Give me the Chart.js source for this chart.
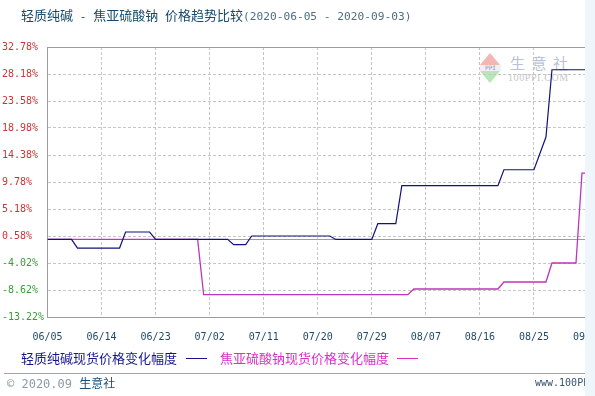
<!DOCTYPE html>
<html>
<head>
<meta charset="utf-8">
<script src="https://cdn.jsdelivr.net/npm/chart.js@4.4.0/dist/chart.umd.min.js"></script>
<style>
  html, body { margin: 0; padding: 0; background: #fff; }
  #wrap { position: relative; width: 595px; height: 396px; overflow: hidden; background: #fff; }
  #chart { position: absolute; left: 0; top: 0; }
  .abs { position: absolute; white-space: nowrap; }
  .cjk { font-family: "Noto Sans CJK SC", sans-serif; }
  .mono { font-family: "DejaVu Sans Mono", monospace; }
  #title { left: 21px; top: 7px; line-height: 16px; color: #16496b; }
  #title .cjk { font-size: 13px; }
  #title .mono { font-size: 11.2px; }
  #title .date { color: #4f6e86; }
  .legtxt { top: 350px; font-size: 13px; line-height: 16px; }
  .legline { top: 358px; width: 21px; height: 0; border-top: 1.5px solid; }
  #sep { left: 4px; top: 373px; width: 585px; height: 1px; background: #a4a4a4; }
  #footer { left: 7px; top: 375px; line-height: 16px; }
  #site { left: 535px; top: 376px; font-size: 10px; line-height: 14px; color: #34536f; }
  #strip { left: 585px; top: 0; width: 10px; height: 396px; background: #eef5fb; }
  #mark { left: 480px; top: 53px; }
</style>
</head>
<body>
<div id="wrap">
  <div id="mark" class="abs">
    <div class="abs" style="left:0;top:0;width:0;height:0;border-left:10.5px solid transparent;border-right:10.5px solid transparent;border-bottom:12px solid #f3b6b3;"></div>
    <div class="abs mono" style="left:0;top:12px;width:21px;height:6px;font-size:6px;line-height:6px;color:#8a94b8;text-align:center;background:#eef0f6;">PPI</div>
    <div class="abs" style="left:0;top:18px;width:0;height:0;border-left:10.5px solid transparent;border-right:10.5px solid transparent;border-top:12px solid #b8e6b6;"></div>
    <div class="abs cjk" style="left:30px;top:2px;font-size:15px;line-height:16px;letter-spacing:6.5px;color:#b9c2d6;">生意社</div>
    <div class="abs" style="left:28px;top:20px;font-family:'Liberation Serif',serif;font-size:10px;line-height:10px;letter-spacing:0.6px;color:#c6c6c6;">100PPI.COM</div>
  </div>
  <canvas id="chart" width="595" height="396"></canvas>
  <div id="title" class="abs"><span class="cjk">轻质纯碱</span><span class="mono"> - </span><span class="cjk">焦亚硫酸钠</span><span class="mono"> </span><span class="cjk">价格趋势比较</span><span class="mono date">(2020-06-05 - 2020-09-03)</span></div>
  <div class="abs cjk legtxt" style="left:21px;color:#16168c;">轻质纯碱现货价格变化幅度</div>
  <div class="abs legline" style="left:186px;border-color:#16168c;"></div>
  <div class="abs cjk legtxt" style="left:220px;color:#dd2ccc;">焦亚硫酸钠现货价格变化幅度</div>
  <div class="abs legline" style="left:397px;border-color:#dd2ccc;"></div>
  <div id="sep" class="abs"></div>
  <div id="footer" class="abs"><span class="mono" style="font-size:12px;color:#8a9aa8;">© 2020.09 </span><span class="cjk" style="font-size:12px;color:#1d4f73;">生意社</span></div>
  <div id="site" class="abs mono">www.100PPI.COM</div>
  <div id="strip" class="abs"></div>
</div>
<script>
// 日期都是 2020 年，x 轴按距 06-05 的天数
const xTickLabels = ['06/05', '06/14', '06/23', '07/02', '07/11', '07/20', '07/29', '08/07', '08/16', '08/25', '09/03'];

// 轻质纯碱现货价格变化幅度 (%)
const sodaDates = ['06-05', '06-09', '06-10', '06-17', '06-18', '06-22', '06-23', '07-05', '07-06', '07-08', '07-09',
                   '07-22', '07-23', '07-29', '07-30', '08-02', '08-03', '08-19', '08-20', '08-25', '08-27', '08-28', '09-03'];
const sodaValues = [0, 0, -1.47, -1.47, 1.26, 1.26, 0, 0, -0.9, -0.9, 0.58,
                    0.58, 0, 0, 2.68, 2.68, 9.15, 9.15, 11.87, 11.87, 17.44, 28.9, 28.9];

// 焦亚硫酸钠现货价格变化幅度 (%)
const sulfiteDates = ['06-05', '06-30', '07-01', '08-04', '08-05', '08-19', '08-20', '08-27', '08-28', '09-01', '09-02', '09-03'];
const sulfiteValues = [0, 0, -9.42, -9.42, -8.45, -8.45, -7.26, -7.26, -4.02, -4.02, 11.3, 11.3];

const yMin = -13.22, yMax = 32.78, yStep = 4.6;

function dayOf(md) {
    const [m, d] = md.split('-').map(Number);
    return (Date.UTC(2020, m - 1, d) - Date.UTC(2020, 5, 5)) / 86400000;
}

function toPoints(dates, values) {
    return dates.map((d, i) => ({ x: dayOf(d), y: values[i] }));
}

// 边框和零线
const framePlugin = {
    id: 'frame',
    beforeDatasetsDraw(chart) {
        const { ctx, chartArea: a, scales } = chart;
        const y0 = Math.round(scales.y.getPixelForValue(0)) + 0.5;
        ctx.save();
        ctx.strokeStyle = '#9c9c9c';
        ctx.lineWidth = 1;
        ctx.beginPath();
        ctx.moveTo(a.left, Math.round(a.top) + 0.5);
        ctx.lineTo(a.right, Math.round(a.top) + 0.5);
        ctx.moveTo(a.left, Math.round(a.bottom) + 0.5);
        ctx.lineTo(a.right, Math.round(a.bottom) + 0.5);
        ctx.moveTo(a.left, y0);
        ctx.lineTo(a.right, y0);
        ctx.moveTo(a.left, a.top);
        ctx.lineTo(a.left, a.bottom + 1);
        ctx.stroke();
        ctx.restore();
    }
};

const ctx = document.getElementById('chart').getContext('2d');
const gridGray = '#c6c6c6';

new Chart(ctx, {
    type: 'line',
    data: {
        datasets: [
            {
                label: '轻质纯碱现货价格变化幅度',
                data: toPoints(sodaDates, sodaValues),
                borderColor: '#12127c',
                borderWidth: 1.2,
                pointRadius: 0,
                tension: 0
            },
            {
                label: '焦亚硫酸钠现货价格变化幅度',
                data: toPoints(sulfiteDates, sulfiteValues),
                borderColor: '#bd34be',
                borderWidth: 1.3,
                pointRadius: 0,
                tension: 0
            }
        ]
    },
    options: {
        responsive: false,
        animation: false,
        layout: { padding: { top: 47, right: 7, left: 2, bottom: 0 } },
        plugins: {
            legend: { display: false },
            tooltip: { enabled: false }
        },
        scales: {
            x: {
                type: 'linear',
                min: 0,
                max: 90,
                ticks: {
                    stepSize: 9,
                    autoSkip: false,
                    maxRotation: 0,
                    padding: 14,
                    color: '#1f4a6a',
                    font: { family: 'DejaVu Sans Mono', size: 10 },
                    callback: (v, i) => xTickLabels[i]
                },
                grid: {
                    drawTicks: false,
                    color: c => c.index === 0 ? 'rgba(0,0,0,0)' : gridGray
                },
                border: { display: false, dash: [3, 2] },
                afterFit: s => { s.height = 79; s.paddingLeft = 0; s.paddingRight = 0; }
            },
            y: {
                min: yMin,
                max: yMax,
                ticks: {
                    stepSize: yStep,
                    crossAlign: 'far',
                    padding: 4,
                    color: c => c.tick.value < 0 ? '#3a9a3a' : '#c73636',
                    font: { family: 'DejaVu Sans Mono', size: 10 },
                    callback: v => v.toFixed(2) + '%'
                },
                grid: {
                    drawTicks: false,
                    color: c => (c.index === 0 || c.index === 10) ? 'rgba(0,0,0,0)' : gridGray
                },
                border: { display: false, dash: [3, 2] },
                afterFit: s => { s.width = 45.5; }
            }
        }
    },
    plugins: [framePlugin]
});
</script>
</body>
</html>
